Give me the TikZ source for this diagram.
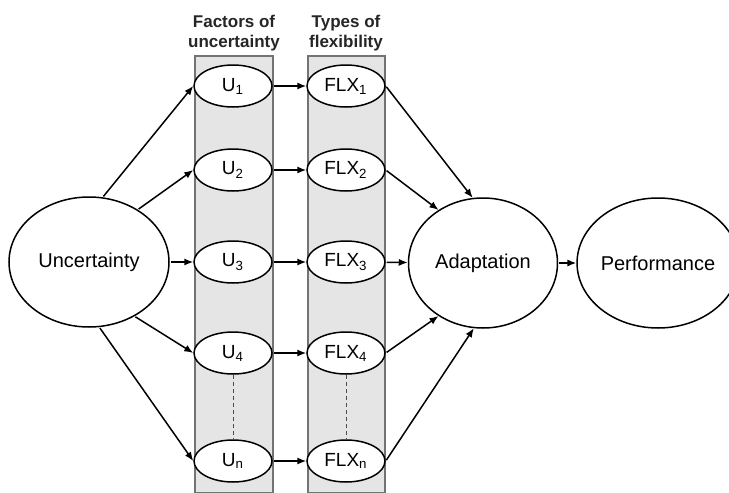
\documentclass[tikz,border=0pt]{standalone}
\usepackage{fontspec}
\setmainfont{Liberation Sans}
\usetikzlibrary{shapes.geometric}
\usetikzlibrary{arrows.meta}
\tikzset{
  column/.style={fill=gray!20, draw=gray!110, line width=0.6pt},
  small/.style={draw, ellipse, fill=white, line width=0.75pt, minimum width=39pt, minimum height=21pt, inner sep=0pt, font=\fontsize{9.5}{11}\selectfont},
  big/.style={draw, ellipse, line width=0.75pt, minimum height=65pt, inner sep=0pt, font=\fontsize{10}{12}\selectfont},
  head/.style={align=center, font=\fontsize{8.5}{10}\selectfont\bfseries, text=black!85},
  link/.style={-{Latex[length=4.5pt,width=3.6pt]}, line width=0.75pt, shorten <=0.5pt},
}

\begin{document}
\begin{tikzpicture}[x=0.5pt, y=-0.5pt]
    \useasboundingbox (0,0) rectangle (729,493);
    % shaded columns
    \draw[column] (195,56) rectangle (273,493);
    \draw[column] (308,56) rectangle (385,493);
    \node[head] (hfac) at (234,33) {Factors of\\uncertainty};
    \node[head] (htyp) at (346,33) {Types of\\flexibility};
    % nodes
    \node[big, minimum width=80pt] (unc) at (89,262) {Uncertainty};
    \node[small] (u1) at (233,86) {U\textsubscript{1}};
    \node[small] (u2) at (233,170) {U\textsubscript{2}};
    \node[small] (u3) at (233,262) {U\textsubscript{3}};
    \node[small] (u4) at (233,353) {U\textsubscript{4}};
    \node[small] (un) at (233,461) {U\textsubscript{n}};
    \node[small] (flx1) at (346,86) {FLX\textsubscript{1}};
    \node[small] (flx2) at (346,170) {FLX\textsubscript{2}};
    \node[small] (flx3) at (346,262) {FLX\textsubscript{3}};
    \node[small] (flx4) at (346,353) {FLX\textsubscript{4}};
    \node[small] (flxn) at (346,461) {FLX\textsubscript{n}};
    \node[big, minimum width=74.5pt] (adapt) at (483,263) {Adaptation};
    \node[big, minimum width=70pt] (perf) at (658,263) {Performance};
    % dotted continuation
    \draw[dashed, gray!140, line width=0.5pt, dash pattern=on 2pt off 1.5pt] (u4) -- (un);
    \draw[dashed, gray!140, line width=0.5pt, dash pattern=on 2pt off 1.5pt] (flx4) -- (flxn);
    % arrows
    \draw[link] (unc.78) -- (u1.west);
    \draw[link] (unc.47) -- (u2.west);
    \draw[link] (unc) -- (u3);
    \draw[link] (unc.-50) -- (u4.west);
    \draw[link] (unc.-81) -- (un.west);
    \draw[link] (u1) -- (flx1);
    \draw[link] (u2) -- (flx2);
    \draw[link] (u3) -- (flx3);
    \draw[link] (u4) -- (flx4);
    \draw[link] (un) -- (flxn);
    \draw[link] (flx1.east) -- (adapt.99);
    \draw[link] (flx2.east) -- (adapt.130);
    \draw[link] (flx3) -- (adapt);
    \draw[link] (flx4.east) -- (adapt.230);
    \draw[link] (flxn.east) -- (adapt.262);
    \draw[link] (adapt) -- (perf);
\end{tikzpicture}
\end{document}
